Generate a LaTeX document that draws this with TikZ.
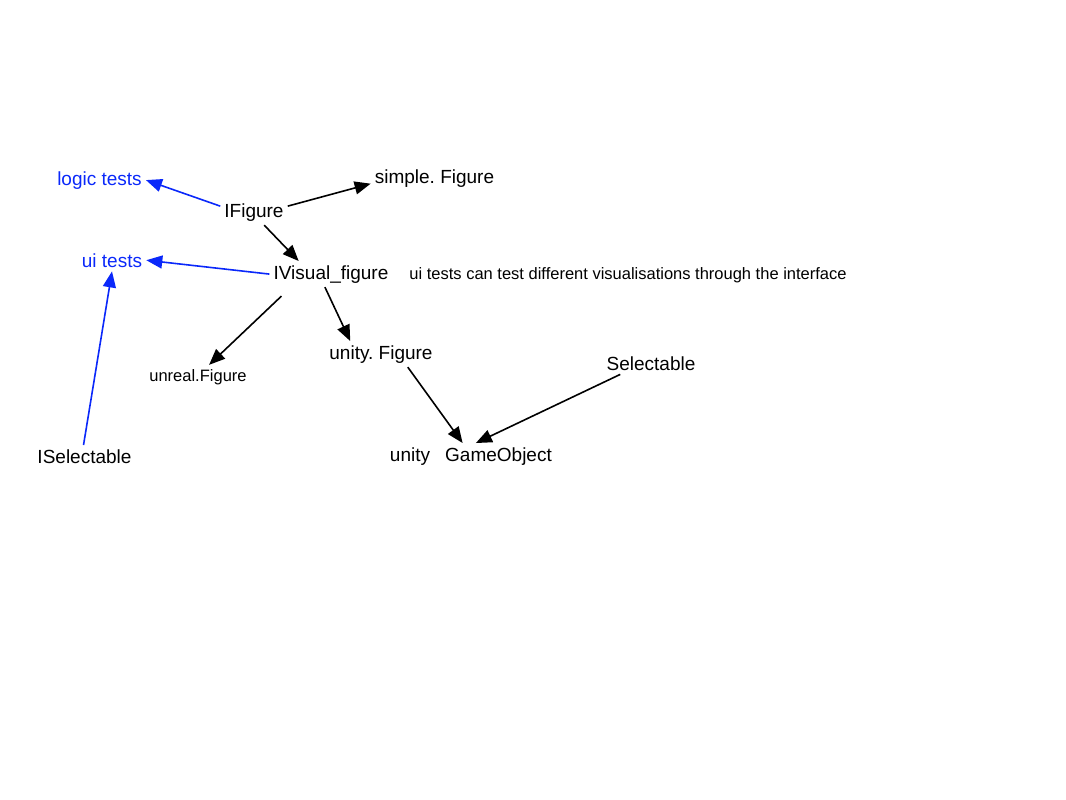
\documentclass[tikz,border=0pt]{standalone}
\usepackage{fontspec}
\setmainfont{Liberation Sans}
\usetikzlibrary{arrows.meta}
\definecolor{testblue}{RGB}{10,40,250}
\frenchspacing

\begin{document}
\begin{tikzpicture}[x=1pt,y=-1pt,
  lbl/.style={anchor=base,inner sep=4pt,font=\fontsize{19}{22}\selectfont},
  small/.style={lbl,font=\fontsize{16.5}{20}\selectfont},
  test/.style={lbl,text=testblue},
  dep/.style={-{Triangle[length=16pt,width=13pt]},line width=1.6pt},
  testdep/.style={dep,testblue}]
\useasboundingbox (0,0) rectangle (1066,800);

% Draw the interfaces and the figures
  \node[lbl] (ifig) at (254,217) {IFigure};
  \node[lbl] (simple) at (434.5,183) {simple. Figure};
  \node[lbl] (ivis) at (331,279) {IVisual\_figure};
  \node[small] (note) at (628,279) {ui tests can test different visualisations through the interface};

  \node[small] (unreal) at (198,381) {unreal.Figure};
  \node[lbl] (ufig) at (381,359) {unity. Figure};

  \node[lbl] (sel) at (651,370) {Selectable};
  \node[lbl] (unity) at (410,461) {unity};
  \node[lbl] (gobj) at (498.5,461) {GameObject};
  \node[lbl] (isel) at (84.5,463) {ISelectable};

  % Draw the tests
  \node[test] (logic) at (99.5,185) {logic tests};
  \node[test] (ui) at (112,267) {ui tests};

  % Draw the arrows
  \draw[testdep] (ifig.170) -- (logic.east);
  \draw[dep] (ifig.10) -- (simple.185);
  \draw[dep] (ifig.-52) -- (ivis.158);

  \draw[testdep] (ivis.west) -- (ui.east);
  \draw[dep] ([shift={(12,9)}]ivis.south west) -- (unreal.47);
  \draw[dep] (ivis.-115) -- (ufig.157);

  \draw[testdep] (isel.95) -- (ui.south);

  \draw[dep] (ufig.-26) -- (gobj.160);
  \draw[dep] (sel.-160) -- (gobj.150);

\end{tikzpicture}
\end{document}
